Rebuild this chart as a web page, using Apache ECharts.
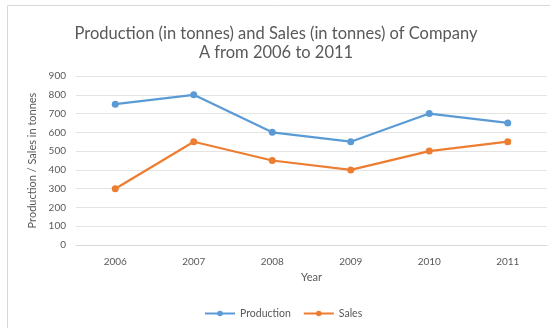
<!DOCTYPE html>
<html>
<head>
<meta charset="utf-8">
<script src="https://cdn.jsdelivr.net/npm/echarts@6/dist/echarts.min.js"></script>
<style>
  html, body { margin: 0; padding: 0; background: #fff; }
  #chart { width: 550px; height: 328px; }
</style>
</head>
<body>
<div id="chart"></div>
<script>
const years = ["2006", "2007", "2008", "2009", "2010", "2011"]
const production = [750, 800, 600, 550, 700, 650]
const sales = [300, 550, 450, 400, 500, 550]

const font = "Lato, 'Open Sans', sans-serif"
const textColor = "#595959"

const chart = echarts.init(document.getElementById("chart"))
chart.setOption({
  animation: false,
  textStyle: { fontFamily: font },
  graphic: [
    {
      type: "rect",
      shape: { x: 7.5, y: 5.5, width: 560, height: 340 },
      style: { fill: "none", stroke: "#d9d9d9", lineWidth: 1 },
      silent: true,
    },
  ],
  title: {
    text: "Production (in tonnes) and Sales (in tonnes) of Company\nA from 2006 to 2011",
    left: 271,
    top: 19,
    textAlign: "center",
    textStyle: {
      fontFamily: font,
      fontSize: 16.5,
      fontWeight: "normal",
      color: textColor,
      lineHeight: 19,
    },
  },
  legend: {
    bottom: 4,
    left: 199,
    itemWidth: 30,
    itemHeight: 7,
    itemGap: 12,
    textStyle: { fontFamily: font, fontSize: 10.5, color: textColor },
    data: ["Production", "Sales"],
  },
  grid: {
    left: 76,
    right: 3,
    top: 76,
    bottom: 83,
  },
  xAxis: {
    type: "category",
    data: years,
    name: "Year",
    nameLocation: "middle",
    nameGap: 27,
    nameTextStyle: { fontFamily: font, fontSize: 11, color: textColor },
    axisLine: { lineStyle: { color: "#d9d9d9" } },
    axisTick: { show: false },
    axisLabel: { fontFamily: font, fontSize: 10, color: textColor, margin: 12 },
  },
  yAxis: {
    type: "value",
    min: 0,
    max: 900,
    interval: 100,
    name: "Production / Sales in tonnes",
    nameLocation: "middle",
    nameGap: 32,
    nameTextStyle: { fontFamily: font, fontSize: 11, color: textColor },
    axisLine: { show: false },
    axisTick: { show: false },
    axisLabel: { fontFamily: font, fontSize: 10, color: textColor, margin: 10 },
    splitLine: { lineStyle: { color: "#e4e4e4" } },
  },
  series: [
    {
      name: "Production",
      type: "line",
      data: production,
      symbol: "circle",
      symbolSize: 7,
      lineStyle: { width: 2.25, color: "#5B9BD5" },
      itemStyle: { color: "#5B9BD5" },
    },
    {
      name: "Sales",
      type: "line",
      data: sales,
      symbol: "circle",
      symbolSize: 7,
      lineStyle: { width: 2.25, color: "#ED7D31" },
      itemStyle: { color: "#ED7D31" },
    },
  ],
})
</script>
</body>
</html>
